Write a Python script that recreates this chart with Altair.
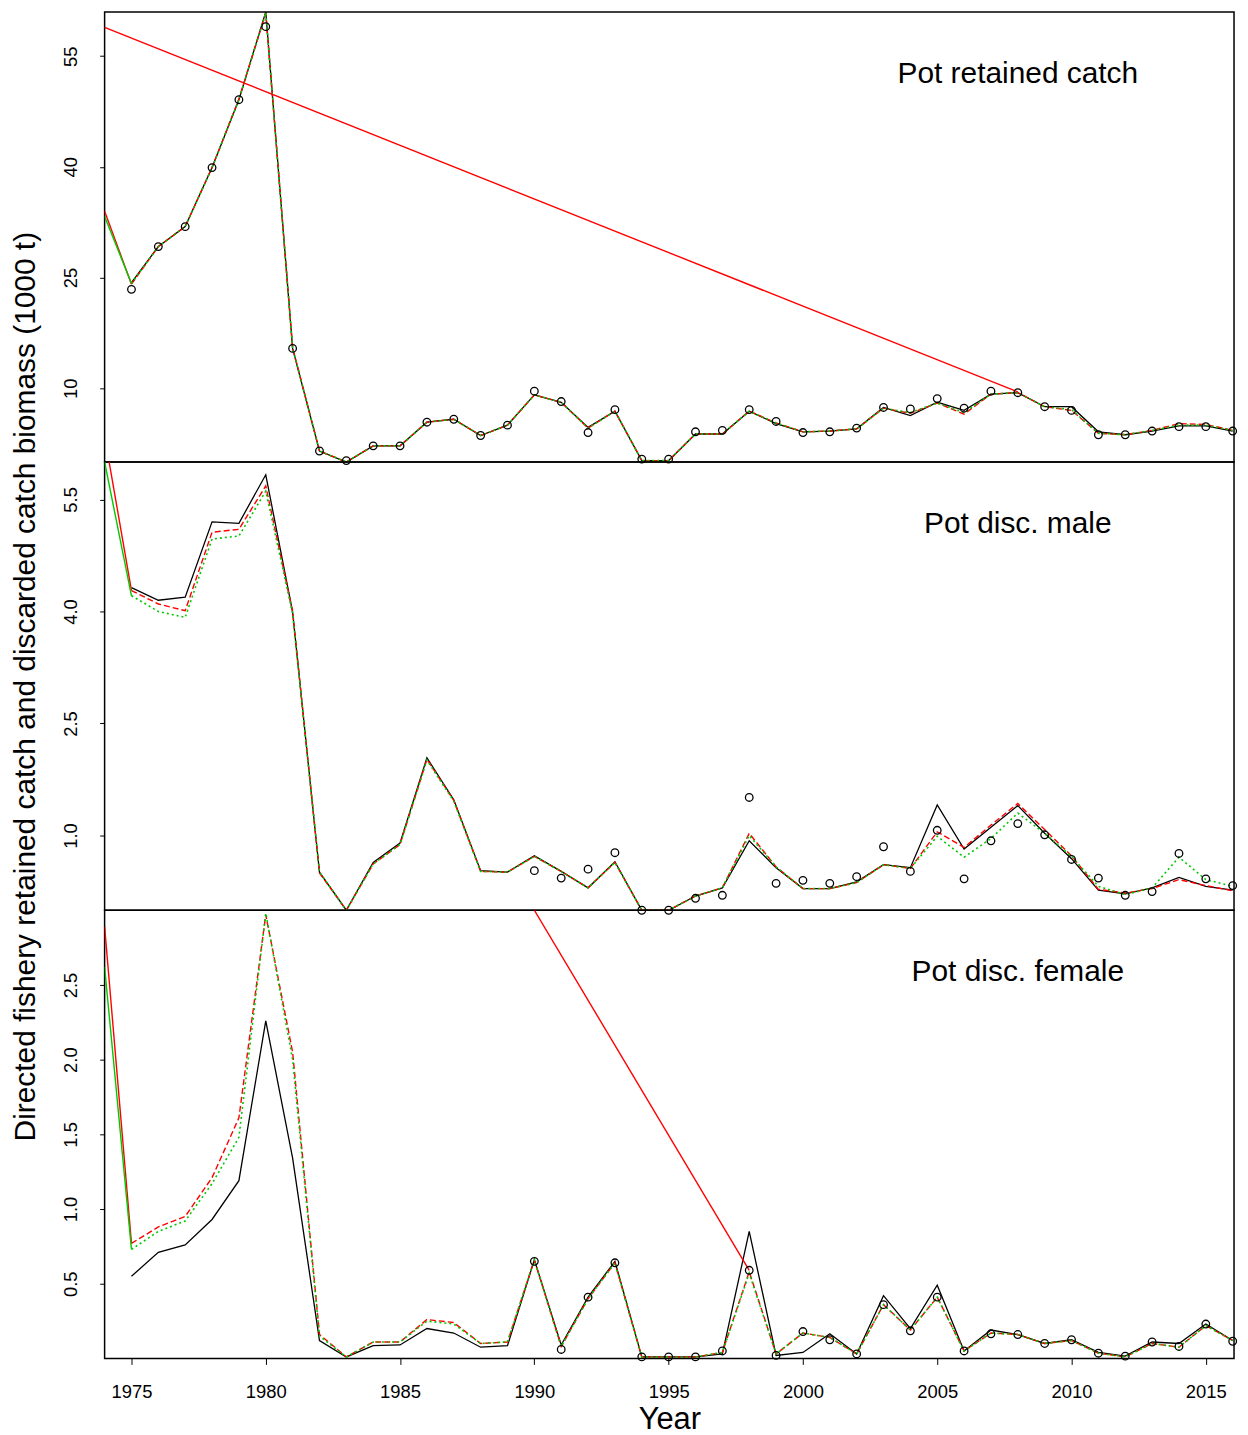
import altair as alt
import pandas as pd

FONT = "Liberation Sans"
YEARS = list(range(1975, 2017))

# ---------------- Pot retained catch ----------------
ret_black = [24.3, 29.2, 31.9, 39.9, 49.1, 61.0, 15.4, 1.5, 0.0, 2.2,
             2.2, 5.4, 5.8, 3.6, 5.0, 9.1, 8.1, 4.7, 6.9, 0.2,
             0.2, 3.8, 3.8, 6.9, 5.2, 4.1, 4.2, 4.5, 7.4, 6.3,
             8.1, 7.0, 9.2, 9.4, 7.5, 7.5, 4.1, 3.7, 4.2, 4.9,
             4.9, 4.2]
ret_red = [24.1, 29.2, 31.9, 39.9, 49.2, 60.8, 15.5, 1.5, 0.0, 2.2,
           2.2, 5.4, 5.8, 3.6, 5.0, 9.1, 8.1, 4.6, 6.9, 0.2,
           0.2, 3.8, 3.8, 6.9, 5.3, 4.1, 4.2, 4.5, 7.3, 6.6,
           8.0, 6.5, 9.2, 9.4, 7.5, 7.0, 3.9, 3.7, 4.3, 5.2,
           5.1, 4.3]
ret_green = [24.2, 29.2, 31.9, 39.9, 49.1, 60.9, 15.4, 1.5, 0.0, 2.2,
             2.2, 5.4, 5.8, 3.6, 5.0, 9.1, 8.1, 4.6, 6.9, 0.2,
             0.2, 3.8, 3.8, 6.9, 5.3, 4.1, 4.2, 4.5, 7.3, 6.7,
             8.0, 6.7, 9.2, 9.4, 7.5, 7.1, 3.9, 3.7, 4.3, 5.0,
             5.0, 4.3]
ret_obs_years = list(range(1975, 2017))
ret_obs = [23.4, 29.2, 31.9, 39.9, 49.1, 59.0, 15.4, 1.5, 0.2, 2.2,
           2.2, 5.4, 5.8, 3.6, 5.0, 9.6, 8.2, 4.0, 7.1, 0.4,
           0.4, 4.1, 4.3, 7.1, 5.5, 4.0, 4.1, 4.6, 7.4, 7.2,
           8.6, 7.3, 9.6, 9.4, 7.5, 7.0, 3.7, 3.7, 4.2, 4.8,
           4.8, 4.2]
ret_start_years = [1974, 1975]
ret_start_red = [34.0, 24.1]
ret_start_green = [33.3, 24.2]
ret_extra_years = [1974, 2008]
ret_extra_red = [58.9, 9.5]

# ---------------- Pot disc. male ----------------
mal_black = [4.32, 4.15, 4.19, 5.20, 5.18, 5.83, 3.99, 0.51, 0.0, 0.64,
             0.90, 2.04, 1.48, 0.53, 0.51, 0.73, 0.52, 0.30, 0.65, 0.0,
             0.0, 0.19, 0.30, 0.93, 0.57, 0.29, 0.29, 0.38, 0.61, 0.57,
             1.41, 0.82, 1.11, 1.40, 1.03, 0.69, 0.27, 0.22, 0.30, 0.44,
             0.32, 0.27]
mal_red = [4.28, 4.10, 4.01, 5.06, 5.10, 5.68, 4.00, 0.50, 0.0, 0.62,
           0.88, 2.02, 1.47, 0.52, 0.51, 0.72, 0.52, 0.30, 0.64, 0.0,
           0.0, 0.19, 0.30, 1.03, 0.58, 0.29, 0.29, 0.37, 0.61, 0.56,
           1.05, 0.84, 1.14, 1.43, 1.08, 0.73, 0.28, 0.23, 0.29, 0.41,
           0.33, 0.26]
mal_green = [4.21, 4.00, 3.92, 4.97, 5.01, 5.61, 3.97, 0.51, 0.0, 0.62,
             0.88, 2.01, 1.46, 0.52, 0.51, 0.72, 0.52, 0.30, 0.64, 0.0,
             0.0, 0.19, 0.30, 1.00, 0.58, 0.29, 0.29, 0.37, 0.61, 0.56,
             0.99, 0.71, 0.96, 1.30, 1.03, 0.72, 0.32, 0.21, 0.30, 0.71,
             0.41, 0.32]
mal_obs_years = list(range(1990, 2017))
mal_obs = [0.53, 0.43, 0.55, 0.77, 0.0, 0.0, 0.16, 0.20, 1.51, 0.36,
           0.40, 0.36, 0.45, 0.85, 0.52, 1.07, 0.42, 0.93, 1.16, 1.01,
           0.68, 0.43, 0.20, 0.25, 0.76, 0.42, 0.33]
mal_start_years = [1974, 1975]
mal_start_red = [6.35, 4.28]
mal_start_green = [6.0, 4.21]

# ---------------- Pot disc. female ----------------
fem_black = [0.55, 0.71, 0.76, 0.93, 1.19, 2.26, 1.34, 0.12, 0.01, 0.085,
             0.09, 0.20, 0.17, 0.075, 0.085, 0.66, 0.09, 0.41, 0.65, 0.01,
             0.01, 0.01, 0.03, 0.85, 0.02, 0.04, 0.165, 0.03, 0.42, 0.20,
             0.49, 0.05, 0.19, 0.16, 0.10, 0.125, 0.04, 0.015, 0.11, 0.10,
             0.23, 0.12]
fem_red = [0.77, 0.88, 0.95, 1.21, 1.61, 2.97, 2.05, 0.16, 0.01, 0.11,
           0.11, 0.26, 0.24, 0.10, 0.11, 0.66, 0.08, 0.40, 0.64, 0.01,
           0.01, 0.01, 0.04, 0.58, 0.03, 0.17, 0.14, 0.03, 0.36, 0.19,
           0.41, 0.05, 0.17, 0.16, 0.10, 0.12, 0.035, 0.01, 0.10, 0.075,
           0.22, 0.12]
fem_green = [0.73, 0.85, 0.92, 1.17, 1.48, 2.98, 2.00, 0.15, 0.01, 0.11,
             0.11, 0.25, 0.23, 0.10, 0.11, 0.66, 0.08, 0.40, 0.64, 0.01,
             0.01, 0.01, 0.04, 0.57, 0.03, 0.17, 0.14, 0.03, 0.36, 0.19,
             0.41, 0.05, 0.17, 0.16, 0.10, 0.12, 0.035, 0.01, 0.10, 0.075,
             0.22, 0.12]
fem_obs_years = list(range(1990, 2017))
fem_obs = [0.65, 0.06, 0.41, 0.64, 0.01, 0.01, 0.01, 0.05, 0.59, 0.02,
           0.18, 0.125, 0.03, 0.36, 0.185, 0.41, 0.05, 0.165, 0.16, 0.10,
           0.125, 0.035, 0.015, 0.11, 0.08, 0.23, 0.115]
fem_start_years = [1974, 1975]
fem_start_red = [2.89, 0.77]
fem_start_green = [2.62, 0.73]
fem_extra_years = [1990, 1998]
fem_extra_red = [3.0, 0.59]

PANEL_LABELS = ["Pot retained catch", "Pot disc. male", "Pot disc. female"]
YTICKS = [[10, 25, 40, 55], [1.0, 2.5, 4.0, 5.5], [0.5, 1.0, 1.5, 2.0, 2.5]]
YDOMAINS = [[0, 61], [0, 6.0], [0, 3.0]]
X_TICKS = list(range(1975, 2016, 5))
Y_TITLE = "Directed fishery retained catch and discarded catch biomass (1000 t)"

RED = "#FF0000"
GREEN = "#00C800"

W = 1134


def df(xs, ys):
    return pd.DataFrame({"year": xs, "value": ys})


def panel(i, black, red, green, obs_years, obs, start_years, start_red,
          start_green, extra_years=None, extra_red=None, height=450,
          show_x=False, ytitle=False):
    xscale = alt.Scale(domain=[1974, 2016.05], nice=False, zero=False)
    yscale = alt.Scale(domain=YDOMAINS[i], nice=False, zero=False)
    if show_x:
        xaxis = alt.Axis(values=X_TICKS, format="d", tickSize=6, tickColor="black",
                         labelPadding=18.5, labelFontSize=18.5, labelFont=FONT,
                         labelColor="black", title="Year", titleFontSize=31,
                         titleFont=FONT, titleFontWeight="normal", titleColor="black",
                         titlePadding=3, grid=False, domain=False, labelFlush=False)
    else:
        xaxis = None
    yfmt = "d" if i == 0 else ".1f"
    ykw = dict(values=YTICKS[i], format=yfmt, orient="left", tickSize=5,
               tickColor="black", labelAngle=-90, labelAlign="center",
               labelBaseline="alphabetic", labelPadding=23.5, labelFontSize=18.5,
               labelFont=FONT, labelColor="black", grid=False, domain=False)
    if ytitle:
        yaxis = alt.Axis(title=Y_TITLE, titleFontSize=30, titleFont=FONT,
                         titleFontWeight="normal", titleColor="black",
                         titleAngle=-90, titleAlign="center",
                         titleBaseline="alphabetic", titleX=-70, titleY=height / 2,
                         **ykw)
    else:
        yaxis = alt.Axis(title=None, **ykw)

    X = alt.X("year:Q", scale=xscale, axis=xaxis)
    Y = alt.Y("value:Q", scale=yscale, axis=yaxis)

    layers = [
        alt.Chart(df(YEARS, black)).mark_line(color="black", strokeWidth=1.3, clip=True).encode(x=X, y=Y),
        alt.Chart(df(YEARS, red)).mark_line(color=RED, strokeWidth=1.4, strokeDash=[6, 3], clip=True).encode(x=X, y=Y),
        alt.Chart(df(YEARS, green)).mark_line(color=GREEN, strokeWidth=1.6, strokeDash=[2, 3], clip=True).encode(x=X, y=Y),
        alt.Chart(df(start_years, start_red)).mark_line(color=RED, strokeWidth=1.4, clip=True).encode(x=X, y=Y),
        alt.Chart(df(start_years, start_green)).mark_line(color=GREEN, strokeWidth=1.4, clip=True).encode(x=X, y=Y),
    ]
    if extra_years is not None:
        layers.append(alt.Chart(df(extra_years, extra_red)).mark_line(
            color=RED, strokeWidth=1.4, clip=True).encode(x=X, y=Y))
    layers.append(alt.Chart(df(obs_years, obs)).mark_point(
        shape="circle", filled=False, size=58, color="black", strokeWidth=1.3,
        opacity=1).encode(x=X, y=Y))
    lab = pd.DataFrame({"label": [PANEL_LABELS[i]]})
    layers.append(alt.Chart(lab).mark_text(
        fontSize=30, font=FONT, align="center", baseline="middle", color="black").encode(
        x=alt.X(datum=2008, type="quantitative", scale=xscale, axis=xaxis),
        y=alt.value(62), text="label:N"))
    return alt.layer(*layers).properties(width=W, height=height)


top = panel(0, ret_black, ret_red, ret_green, ret_obs_years, ret_obs,
            ret_start_years, ret_start_red, ret_start_green,
            ret_extra_years, ret_extra_red, height=452)
mid = panel(1, mal_black, mal_red, mal_green, mal_obs_years, mal_obs,
            mal_start_years, mal_start_red, mal_start_green, height=450, ytitle=True)
bot = panel(2, fem_black, fem_red, fem_green, fem_obs_years, fem_obs,
            fem_start_years, fem_start_red, fem_start_green,
            fem_extra_years, fem_extra_red, height=450, show_x=True)

chart = alt.vconcat(top, mid, bot, spacing=0, bounds="flush").properties(
    padding={"left": 2, "right": 0, "top": 0, "bottom": 0}
).configure(background="white").configure_view(stroke="black", strokeWidth=1.5)

chart.save("out.html", embed_options={"renderer": "svg", "actions": False})
